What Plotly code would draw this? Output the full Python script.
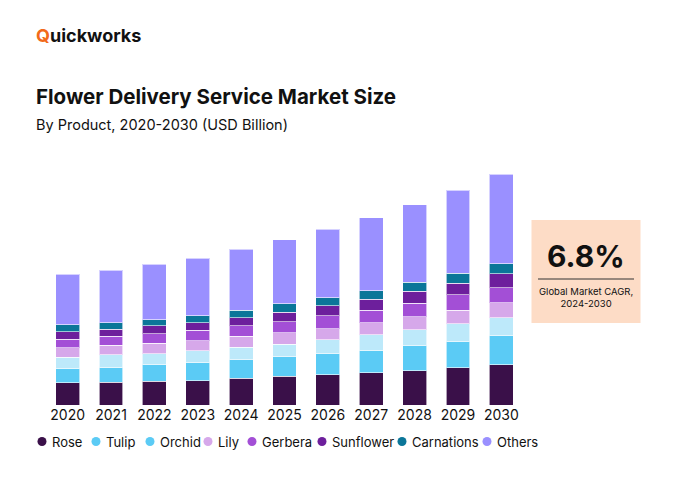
import plotly.graph_objects as go

years = ["2020", "2021", "2022", "2023", "2024", "2025", "2026", "2027", "2028", "2029", "2030"]
rose = [1.08, 1.11, 1.16, 1.19, 1.31, 1.41, 1.47, 1.57, 1.68, 1.83, 1.98]
tulip = [0.72, 0.75, 0.80, 0.87, 0.90, 0.95, 1.03, 1.11, 1.23, 1.27, 1.42]
orchid = [0.55, 0.59, 0.54, 0.59, 0.62, 0.62, 0.69, 0.75, 0.77, 0.88, 0.88]
lily = [0.46, 0.48, 0.52, 0.50, 0.54, 0.55, 0.55, 0.60, 0.65, 0.67, 0.72]
gerbera = [0.41, 0.44, 0.47, 0.52, 0.50, 0.55, 0.64, 0.62, 0.66, 0.74, 0.75]
sunflower = [0.36, 0.34, 0.39, 0.36, 0.41, 0.46, 0.49, 0.54, 0.57, 0.57, 0.67]
carnations = [0.34, 0.31, 0.29, 0.34, 0.36, 0.41, 0.39, 0.41, 0.46, 0.50, 0.49]
others = [2.49, 2.58, 2.72, 2.83, 2.99, 3.14, 3.35, 3.56, 3.79, 4.07, 4.40]

series_names = ["Rose", "Tulip", "Orchid", "Lily", "Gerbera", "Sunflower", "Carnations", "Others"]
series_values = [rose, tulip, orchid, lily, gerbera, sunflower, carnations, others]
bar_colors = ["#3A1049", "#5BCBF5", "#BDE9FA", "#D6A8EA", "#A34FD6", "#6D1F9C", "#0B7699", "#9A90FF"]
legend_colors = ["#3A1049", "#5BCBF5", "#5BCBF5", "#D6A8EA", "#A34FD6", "#6D1F9C", "#0B7699", "#9A90FF"]

label_year = "2022"
label_text = "$6.9B"
cagr_value = "6.8%"
cagr_caption = "Global Market CAGR,<br>2024-2030"

FONT = "Inter"
W, H = 674, 480
ML, MR, MT, MB = 46, 151, 160, 75
PW, PH = W - ML - MR, H - MT - MB


def px(xp):
    return (xp - ML) / PW


def py(yp):
    return (H - MB - yp) / PH


fig = go.Figure()
for name, vals, col in zip(series_names, series_values, bar_colors):
    fig.add_trace(go.Bar(
        x=years, y=vals, name=name, marker_color=col,
        marker_line=dict(color="rgba(255,255,255,0.6)", width=1),
        showlegend=False, hoverinfo="skip",
    ))

totals = [sum(v) for v in zip(*series_values)]
idx = years.index(label_year)
fig.add_annotation(x=label_year, y=totals[idx], text=label_text, showarrow=False, xanchor="center",
                   yanchor="bottom", yshift=6, font=dict(family=FONT, size=16, color="#111111"))

fig.update_layout(
    width=W, height=H,
    barmode="stack", bargap=0.45,
    plot_bgcolor="white", paper_bgcolor="white",
    margin=dict(l=ML, r=MR, t=MT, b=MB, autoexpand=False),
    font=dict(family=FONT, color="#111111"),
    xaxis=dict(showgrid=False, showline=False, ticks="", tickfont=dict(size=14, color="#111111"),
               range=[-0.5, 10.5], fixedrange=True),
    yaxis=dict(visible=False, range=[0, 12], fixedrange=True),
    showlegend=False,
)

# Manual legend with circle markers
legend_dot_x = [42, 96, 150, 208, 252, 322, 402, 487]
legend_y = 441.5
for name, col, dx in zip(series_names, legend_colors, legend_dot_x):
    fig.add_shape(type="circle", xref="paper", yref="paper", xsizemode="pixel", ysizemode="pixel",
                  xanchor=px(dx), yanchor=py(legend_y), x0=-4.5, x1=4.5, y0=-4.5, y1=4.5,
                  fillcolor=col, line_width=0)
    fig.add_annotation(xref="paper", yref="paper", x=px(dx + 8), y=py(legend_y), xanchor="left",
                       yanchor="middle", text=name, showarrow=False,
                       font=dict(family=FONT, size=13, color="#111111"))

# Logo
fig.add_annotation(xref="paper", yref="paper", x=px(34), y=py(36), xanchor="left", yanchor="middle",
                   text="<b><span style='color:#F26A1B'>Q</span>uickworks</b>", showarrow=False,
                   font=dict(family=FONT, size=18, color="#111111"))
# Title
fig.add_annotation(xref="paper", yref="paper", x=px(34), y=py(96), xanchor="left", yanchor="middle",
                   text="<b>Flower Delivery Service Market Size</b>", showarrow=False,
                   font=dict(family=FONT, size=20.5, color="#111111"))
fig.add_annotation(xref="paper", yref="paper", x=px(34), y=py(124), xanchor="left", yanchor="middle",
                   text="By Product, 2020-2030 (USD Billion)", showarrow=False,
                   font=dict(family=FONT, size=14.5, color="#111111"))

# CAGR box
fig.add_shape(type="rect", xref="paper", yref="paper", x0=px(531.5), x1=px(640.5), y0=py(323), y1=py(220),
              fillcolor="#FDDCC6", line_width=0, layer="below")
fig.add_shape(type="line", xref="paper", yref="paper", x0=px(538), x1=px(634), y0=py(279), y1=py(279),
              line=dict(color="#333333", width=1))
fig.add_annotation(xref="paper", yref="paper", x=px(586), y=py(256), text="<b>" + cagr_value + "</b>",
                   showarrow=False, xanchor="center", yanchor="middle",
                   font=dict(family=FONT, size=30, color="#111111"))
fig.add_annotation(xref="paper", yref="paper", x=px(586), y=py(297), text=cagr_caption, showarrow=False,
                   xanchor="center", yanchor="middle", font=dict(family=FONT, size=9.5, color="#111111"))

fig.write_html("out.html", config={"displayModeBar": False},
               post_script="document.body.style.margin='0';document.body.style.padding='0';")
